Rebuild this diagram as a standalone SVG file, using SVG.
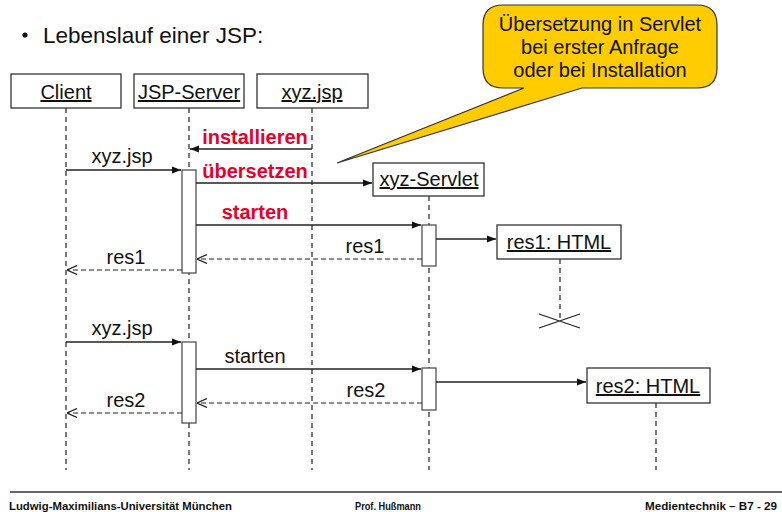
<svg xmlns="http://www.w3.org/2000/svg" width="782" height="512" viewBox="0 0 782 512">
  <style>
    text { font-family: "Liberation Sans", Arial, sans-serif; fill: #111; }
    .obj { fill: #fff; stroke: #333; stroke-width: 1.3; }
    .lbl { font-size: 20px; text-anchor: middle; text-decoration: underline; }
    .msg { font-size: 20px; text-anchor: middle; }
    .red { font-size: 20px; font-weight: bold; fill: #e8002d; text-anchor: middle; }
    .life { stroke: #222; stroke-width: 1.2; stroke-dasharray: 5 4; fill: none; }
    .act { fill: #fff; stroke: #444; stroke-width: 1.2; }
    .call { stroke: #222; stroke-width: 1.3; fill: none; marker-end: url(#solid); }
    .ret { stroke: #222; stroke-width: 1.2; stroke-dasharray: 5 3; fill: none; marker-end: url(#open); }
    .foot { font-size: 11.5px; font-weight: bold; }
  </style>
  <defs>
    <marker id="solid" viewBox="0 0 10 10" refX="10" refY="5" markerWidth="9" markerHeight="9" markerUnits="userSpaceOnUse" orient="auto">
      <path d="M0,1 L10,5 L0,9 z" fill="#111"/>
    </marker>
    <marker id="open" viewBox="0 0 10 10" refX="10" refY="5" markerWidth="10" markerHeight="10" markerUnits="userSpaceOnUse" orient="auto">
      <path d="M0,0.5 L10,5 L0,9.5" fill="none" stroke="#222" stroke-width="1.2"/>
    </marker>
  </defs>

  <!-- heading -->
  <circle cx="25" cy="35" r="2.6" fill="#111"/>
  <text x="43" y="43" font-size="22.5">Lebenslauf einer JSP:</text>

  <!-- lifelines -->
  <g id="lifelines">
    <line class="life" x1="66" y1="108" x2="66" y2="470"/>
    <line class="life" x1="189" y1="108" x2="189" y2="470"/>
    <line class="life" x1="312" y1="108" x2="312" y2="470"/>
    <line class="life" x1="429" y1="196" x2="429" y2="470"/>
    <line class="life" x1="560" y1="259" x2="560" y2="321"/>
    <line class="life" x1="656" y1="403" x2="656" y2="470"/>
  </g>

  <!-- objects -->
  <g id="client">
    <rect class="obj" x="11" y="74" width="110" height="34"/>
    <text class="lbl" x="66" y="99">Client</text>
  </g>
  <g id="jsp-server">
    <rect class="obj" x="134" y="74" width="110" height="34"/>
    <text class="lbl" x="189" y="99">JSP-Server</text>
  </g>
  <g id="xyz-jsp">
    <rect class="obj" x="257" y="74" width="111" height="34"/>
    <text class="lbl" x="312" y="99">xyz.jsp</text>
  </g>
  <g id="xyz-servlet">
    <rect class="obj" x="373" y="163" width="111" height="33"/>
    <text class="lbl" x="429" y="186">xyz-Servlet</text>
  </g>
  <g id="res1-html">
    <rect class="obj" x="497" y="225" width="124" height="34"/>
    <text class="lbl" x="559" y="249">res1: HTML</text>
    <path d="M539,314 L580,328 M539,328 L580,314" stroke="#222" stroke-width="1.3"/>
  </g>
  <g id="res2-html">
    <rect class="obj" x="587" y="368" width="123" height="35"/>
    <text class="lbl" x="648" y="393">res2: HTML</text>
  </g>

  <!-- activation bars -->
  <g id="activations">
    <rect class="act" x="182" y="170" width="14" height="103"/>
    <rect class="act" x="422" y="225" width="14" height="41"/>
    <rect class="act" x="182" y="342" width="14" height="81"/>
    <rect class="act" x="422" y="368" width="14" height="42"/>
  </g>

  <!-- messages -->
  <g id="connectors">
    <line class="call" x1="312" y1="149" x2="190" y2="149"/>
    <line class="call" x1="66" y1="170" x2="181" y2="170"/>
    <line class="call" x1="196" y1="183" x2="372" y2="183"/>
    <line class="call" x1="196" y1="225" x2="421" y2="225"/>
    <line class="call" x1="436" y1="239" x2="496" y2="239"/>
    <line class="ret" x1="422" y1="259" x2="197" y2="259"/>
    <line class="ret" x1="182" y1="270" x2="67" y2="270"/>
    <line class="call" x1="66" y1="342" x2="181" y2="342"/>
    <line class="call" x1="196" y1="369" x2="421" y2="369"/>
    <line class="call" x1="436" y1="382" x2="586" y2="382"/>
    <line class="ret" x1="422" y1="403" x2="197" y2="403"/>
    <line class="ret" x1="182" y1="413" x2="67" y2="413"/>
  </g>

  <!-- message labels -->
  <g id="labels">
    <text class="red" x="255" y="144">installieren</text>
    <text class="msg" x="122" y="163">xyz.jsp</text>
    <text class="red" x="255" y="178">übersetzen</text>
    <text class="red" x="255" y="219">starten</text>
    <text class="msg" x="365" y="253">res1</text>
    <text class="msg" x="126" y="264">res1</text>
    <text class="msg" x="122" y="335">xyz.jsp</text>
    <text class="msg" x="255" y="363">starten</text>
    <text class="msg" x="366" y="397">res2</text>
    <text class="msg" x="126" y="407">res2</text>
  </g>

  <!-- callout note -->
  <g id="note">
    <path d="M503,5 L697,5 Q717,5 717,25 L717,68 Q717,88 697,88 L582,88 L337,163 L524,88 L503,88 Q483,88 483,68 L483,25 Q483,5 503,5 Z" fill="#ffcc00" stroke="#333" stroke-width="1.2"/>
    <text class="msg" x="600" y="31" font-size="19">Übersetzung in Servlet</text>
    <text class="msg" x="600" y="54" font-size="19">bei erster Anfrage</text>
    <text class="msg" x="600" y="77" font-size="19">oder bei Installation</text>
  </g>

  <!-- footer -->
  <line x1="10" y1="492" x2="782" y2="492" stroke="#333" stroke-width="1.5"/>
  <text class="foot" x="9" y="510" textLength="223" lengthAdjust="spacingAndGlyphs">Ludwig-Maximilians-Universität München</text>
  <text class="foot" x="355" y="510" textLength="66" lengthAdjust="spacingAndGlyphs">Prof. Hußmann</text>
  <text class="foot" x="645" y="510" textLength="132" lengthAdjust="spacingAndGlyphs">Medientechnik  –  B7 - 29</text>
</svg>
